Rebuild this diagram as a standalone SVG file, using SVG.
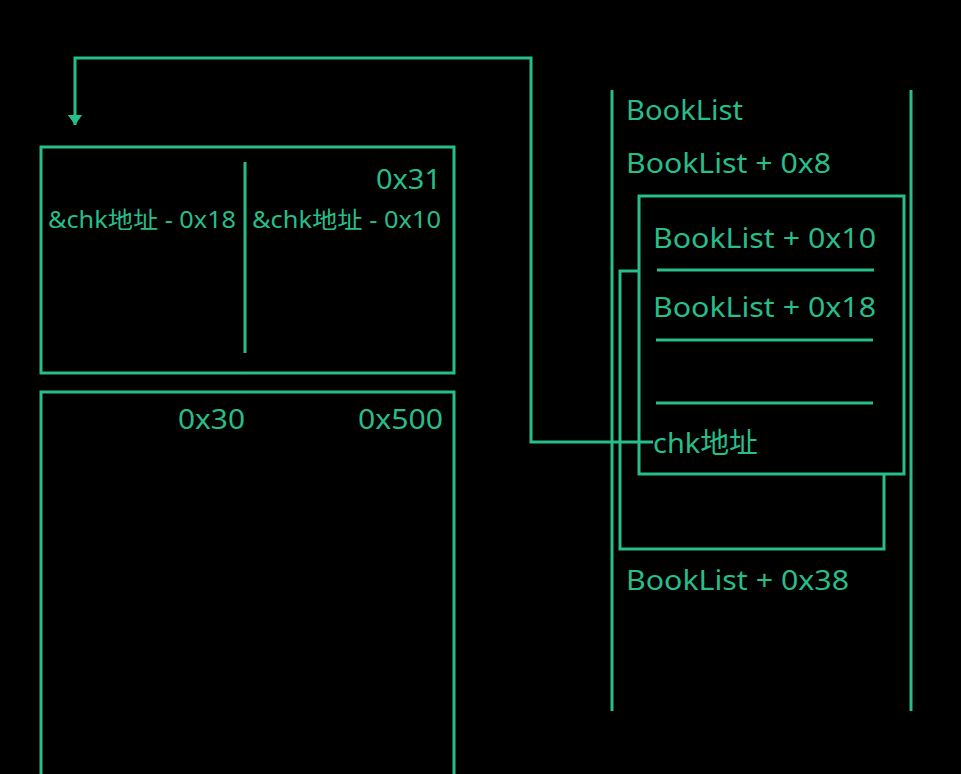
<svg xmlns="http://www.w3.org/2000/svg" width="961" height="774" viewBox="0 0 961 774">
<style>
.s{fill:none;stroke:#27be8a;stroke-width:3}
.f{fill:#000;stroke:#27be8a;stroke-width:3}
text{fill:#27be8a;font-family:"Noto Sans","Noto Sans CJK SC",sans-serif}
.b{font-size:28px}
.m{font-size:23px}
</style>
<defs>
<marker id="ah" viewBox="0 0 10 10" refX="10" refY="5" markerWidth="3.5" markerHeight="5" orient="auto" preserveAspectRatio="none"><path d="M0,0L10,5L0,10z" fill="#27be8a"/></marker>
</defs>
<rect width="961" height="774" fill="#000"/>
<g id="chunk-top">
<rect class="s" x="41" y="147" width="413" height="226"/>
<line class="s" x1="245" y1="162" x2="245" y2="353"/>
<text class="b" x="376" y="189" textLength="65" lengthAdjust="spacingAndGlyphs">0x31</text>
<text class="m" x="48" y="228" textLength="188" lengthAdjust="spacingAndGlyphs">&amp;chk地址 - 0x18</text>
<text class="m" x="252" y="228" textLength="189" lengthAdjust="spacingAndGlyphs">&amp;chk地址 - 0x10</text>
</g>
<g id="chunk-bottom">
<path class="s" d="M41,776V392H454V776"/>
<text class="b" x="178" y="429" textLength="67" lengthAdjust="spacingAndGlyphs">0x30</text>
<text class="b" x="358" y="429" textLength="85" lengthAdjust="spacingAndGlyphs">0x500</text>
</g>
<g id="booklist">
<line class="s" x1="612" y1="90" x2="612" y2="711"/>
<line class="s" x1="911" y1="90" x2="911" y2="711"/>
<text class="b" x="626" y="120" textLength="117" lengthAdjust="spacingAndGlyphs">BookList</text>
<text class="b" x="626" y="173" textLength="205" lengthAdjust="spacingAndGlyphs">BookList + 0x8</text>
<text class="b" x="626" y="590" textLength="223" lengthAdjust="spacingAndGlyphs">BookList + 0x38</text>
</g>
<g id="back-chunk">
<rect class="s" x="620" y="271" width="264" height="278"/>
</g>
<g id="fake-chunk">
<rect class="f" x="639" y="196" width="265" height="278"/>
<line class="s" x1="657" y1="270" x2="874" y2="270"/>
<line class="s" x1="656" y1="340" x2="873" y2="340"/>
<line class="s" x1="656" y1="403" x2="873" y2="403"/>
<text class="b" x="653" y="248" textLength="223" lengthAdjust="spacingAndGlyphs">BookList + 0x10</text>
<text class="b" x="653" y="317" textLength="223" lengthAdjust="spacingAndGlyphs">BookList + 0x18</text>
<text class="b" x="653" y="453" textLength="105" lengthAdjust="spacingAndGlyphs">chk地址</text>
</g>
<g id="connectors">
<path class="s" d="M653,442H531V58H75V125" marker-end="url(#ah)"/>
</g>
</svg>
